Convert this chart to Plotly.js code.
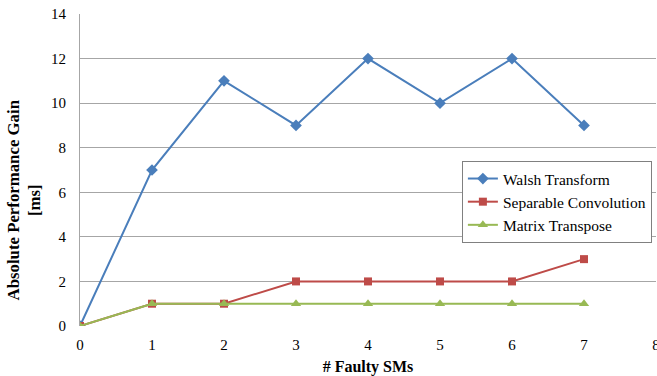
<!DOCTYPE html>
<html><head><meta charset="utf-8">
<script src="https://cdn.plot.ly/plotly-3.0.1.min.js"></script>
<style>body{margin:0;padding:0;}#chart{width:657px;height:376px;}</style>
</head><body><div id="chart"></div>
<script>
var faultySMs = [0, 1, 2, 3, 4, 5, 6, 7];
var walsh = [0, 7, 11, 9, 12, 10, 12, 9];
var sepConv = [0, 1, 1, 2, 2, 2, 2, 3];
var matTrans = [0, 1, 1, 1, 1, 1, 1, 1];
var seriesNames = ["Walsh Transform", "Separable Convolution", "Matrix Transpose"];
var xTitle = "# Faulty SMs";
var yTitle = "Absolute Performance Gain<br>[ms]";

var font = "'Times New Roman', 'Liberation Serif', serif";
var traces = [
  {x: faultySMs, y: walsh, name: seriesNames[0], mode: "lines+markers",
   line: {color: "#4A7EBB", width: 2}, marker: {symbol: "diamond", size: 9, color: "#4A7EBB"}},
  {x: faultySMs, y: sepConv, name: seriesNames[1], mode: "lines+markers",
   line: {color: "#BE4B48", width: 2}, marker: {symbol: "square", size: 8, color: "#BE4B48"}},
  {x: faultySMs, y: matTrans, name: seriesNames[2], mode: "lines+markers",
   line: {color: "#98B954", width: 2}, marker: {symbol: "triangle-up", size: 9, color: "#98B954"}}
];
var layout = {
  width: 657, height: 376,
  margin: {l: 80, r: 1, t: 14, b: 50},
  paper_bgcolor: "#fff", plot_bgcolor: "#fff",
  font: {family: font, size: 15, color: "#000"},
  showlegend: true,
  legend: {x: 0.663, y: 0.529, xanchor: "left", yanchor: "top",
    bgcolor: "#fff", bordercolor: "#808080", borderwidth: 1,
    font: {family: font, size: 15.5, color: "#000"}, tracegroupgap: 0},
  xaxis: {range: [0, 8], dtick: 1, tick0: 0, showgrid: false, zeroline: false,
    showline: false, ticks: "", ticklabeloverflow: "allow", ticklabelstandoff: 8,
    tickfont: {family: font, size: 15, color: "#000"},
    title: {text: "<b>" + xTitle + "</b>", font: {family: font, size: 16}, standoff: 10}},
  yaxis: {range: [0, 14], dtick: 2, tick0: 0, showgrid: true, gridcolor: "#A6A6A6", gridwidth: 1,
    zeroline: false, showline: true, linecolor: "#A6A6A6", linewidth: 1, ticks: "",
    ticklabelstandoff: 10,
    tickfont: {family: font, size: 15, color: "#000"}},
  annotations: [{
    text: "<b>" + yTitle + "</b>", textangle: -90, showarrow: false,
    xref: "paper", yref: "paper", x: -0.0964, y: 0.404,
    xanchor: "center", yanchor: "middle",
    font: {family: font, size: 16.8, color: "#000"}
  }]
};
Plotly.newPlot("chart", traces, layout, {displayModeBar: false});
</script></body></html>
